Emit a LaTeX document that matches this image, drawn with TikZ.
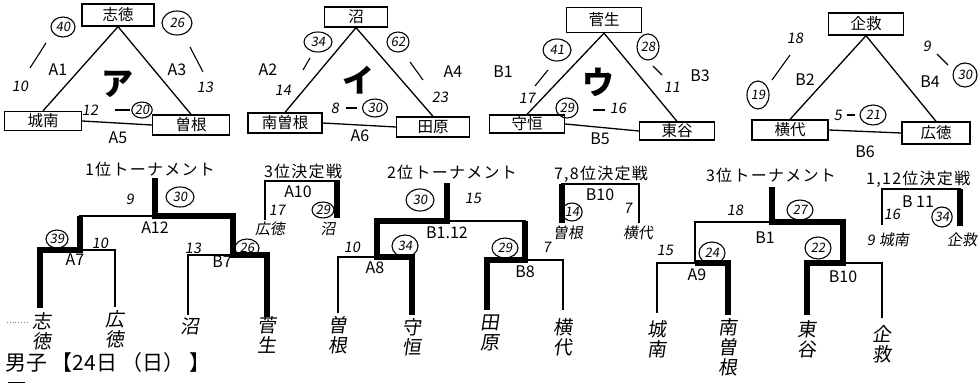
\documentclass[tikz,border=0pt]{standalone}
\usepackage{fontspec}
\usetikzlibrary{shapes.geometric}
\newfontfamily\jp{Noto Sans CJK JP}
\newfontfamily\jpt[LetterSpace=8]{Noto Sans CJK JP}
\newfontfamily\hand[FakeSlant=0.15]{Noto Sans CJK JP}
\tikzset{
  box/.style={draw, line width=1.3pt, inner sep=0pt, font=\jp\fontsize{15.5}{15.5}\selectfont},
  lbl/.style={inner sep=0pt, font=\jp\fontsize{16}{16}\selectfont},
  kana/.style={inner sep=0pt, font=\jp\bfseries\fontsize{32}{32}\selectfont},
  hw/.style={inner sep=0pt, font=\hand\fontsize{14.5}{14.5}\selectfont},
  hwl/.style={inner sep=0pt, font=\hand\fontsize{15}{15}\selectfont},
  circ/.style={draw, ellipse, line width=1.1pt, inner sep=0pt, font=\hand\fontsize{13}{13}\selectfont},
  edge/.style={line width=1.3pt},
  tick/.style={line width=1.1pt},
  thin/.style={line width=1.3pt},
  win/.style={line width=5.5pt, line join=miter},
  ttl/.style={inner sep=0pt, font=\jpt\fontsize{16}{16}\selectfont},
  leaf/.style={anchor=north, inner sep=0pt, align=center, font=\hand\fontsize{19}{20}\selectfont},
}
\begin{document}
\begin{tikzpicture}[x=1pt,y=-1pt]
\useasboundingbox (0,0) rectangle (980,385);
% ---------- Triangle ア ----------
\node[box, minimum width=72pt, minimum height=22pt] (sht) at (118,15) {志徳};
\node[box, minimum width=77pt, minimum height=19pt] (jnn) at (43,121) {城南};
\node[box, minimum width=77pt, minimum height=20pt] (sne) at (191,125) {曽根};
\draw[edge] (sht.south) -- (jnn.north);
\draw[edge] (sht.south) -- (sne.north);
\draw[edge] (jnn.east) -- (sne.west);
\node[lbl] (a1) at (58,70) {A1};
\node[lbl] (a3) at (177,70) {A3};
\node[lbl] (a5) at (118,138) {A5};
\node[kana] (ka) at (117,84) {ア};
\node[circ, minimum width=24pt, minimum height=20pt] (c40) at (63,27) {40};
\node[hw] (s10) at (20,86) {10};
\draw[tick] (30,68) -- (46,43);
\node[circ, minimum width=30pt, minimum height=24pt] (c26) at (177,23) {26};
\draw[tick] (190,47) -- (203,72);
\node[hw] (s13) at (205,87) {13};
\node[hw] (s12) at (90,110) {12};
\draw[tick] (115,110) -- (130,110);
\node[circ, minimum width=20pt, minimum height=16pt] (c20) at (142,110) {20};
% ---------- Triangle イ ----------
\node[box, minimum width=63pt, minimum height=20pt] (num) at (356,17) {沼};
\node[box, minimum width=74pt, minimum height=20pt] (mss) at (285,123) {南曽根};
\node[box, minimum width=73pt, minimum height=20pt] (tah) at (433,127) {田原};
\draw[edge] (num.south) -- (mss.north);
\draw[edge] (num.south) -- (tah.north);
\draw[edge] (mss.east) -- (tah.west);
\node[lbl] (a2) at (268,70) {A2};
\node[lbl] (a4) at (453,72) {A4};
\node[lbl] (a6) at (360,136) {A6};
\node[kana] (ki) at (358,80) {イ};
\node[circ, minimum width=28pt, minimum height=20pt] (c34) at (318,42) {34};
\draw[tick] (310,58) -- (303,70);
\node[hw] (s14) at (283,90) {14};
\node[circ, minimum width=22pt, minimum height=20pt] (c62) at (398,42) {62};
\draw[tick] (410,62) -- (423,80);
\node[hw] (s23) at (440,97) {23};
\node[hw] (s8) at (335,108) {8};
\draw[tick] (346,108) -- (357,108);
\node[circ, minimum width=25pt, minimum height=18pt] (c30a) at (375,108) {30};
% ---------- Triangle ウ ----------
\node[box, minimum width=75pt, minimum height=25pt] (sug) at (604,20) {菅生};
\node[box, minimum width=75pt, minimum height=18pt] (mrt) at (527,124) {守恒};
\node[box, minimum width=75pt, minimum height=18pt] (hgs) at (677,131) {東谷};
\draw[edge] (sug.south) -- (mrt.north);
\draw[edge] (sug.south) -- (hgs.north);
\draw[edge] (mrt.east) -- (hgs.west);
\node[lbl] (b1) at (503,72) {B1};
\node[lbl] (b3) at (700,76) {B3};
\node[lbl] (b5) at (600,139) {B5};
\node[kana] (ku) at (598,82) {ウ};
\node[circ, minimum width=28pt, minimum height=22pt] (c41) at (557,50) {41};
\draw[tick] (548,70) -- (535,86);
\node[hw] (s17) at (527,98) {17};
\node[circ, minimum width=22pt, minimum height=26pt] (c28) at (648,47) {28};
\draw[tick] (653,66) -- (662,75);
\node[hw] (s11) at (672,87) {11};
\node[circ, minimum width=22pt, minimum height=20pt] (c29) at (567,108) {29};
\draw[tick] (593,110) -- (605,110);
\node[hw] (s16) at (618,108) {16};
% ---------- Triangle (4) ----------
\node[box, minimum width=75pt, minimum height=22pt] (kik) at (866,24) {企救};
\node[box, minimum width=76pt, minimum height=20pt] (ysh) at (790,130) {横代};
\node[box, minimum width=68pt, minimum height=22pt] (htk) at (936,133) {広徳};
\draw[edge] (kik.south) -- (ysh.north);
\draw[edge] (kik.south) -- (htk.north);
\draw[edge] (ysh.east) -- (htk.west);
\node[lbl] (b2) at (805,80) {B2};
\node[lbl] (b4) at (930,82) {B4};
\node[lbl] (b6) at (865,152) {B6};
\node[hw] (s18) at (795,38) {18};
\draw[tick] (790,55) -- (772,80);
\node[circ, minimum width=22pt, minimum height=28pt] (c19) at (758,95) {19};
\node[hw] (s9a) at (927,46) {9};
\draw[tick] (937,54) -- (948,65);
\node[circ, minimum width=24pt, minimum height=24pt] (c30b) at (965,75) {30};
\node[hw] (s5) at (838,115) {5};
\draw[tick] (847,115) -- (855,115);
\node[circ, minimum width=26pt, minimum height=20pt] (c21) at (873,115) {21};
% ---------- Bracket titles ----------
\node[ttl] (t1) at (150,169) {1位トーナメント};
\node[ttl] (t2) at (303,171) {3位決定戦};
\node[ttl] (t3) at (452,172) {2位トーナメント};
\node[ttl] (t4) at (601,174) {7,8位決定戦};
\node[ttl] (t5) at (771,175) {3位トーナメント};
\node[ttl, anchor=west] (t6) at (866,179) {1,12位決定戦};
% ---------- 1位トーナメント ----------
\draw[thin] (40,307) -- (40,250) -- (115,250) -- (115,307);
\draw[thin] (80,250) -- (80,216) -- (233,216) -- (233,255);
\draw[thin] (188,315) -- (188,255) -- (267,255) -- (267,317);
\draw[win] (40,308) -- (40,250) -- (80,250) -- (80,216);
\draw[win] (267,317) -- (267,255) -- (233,255) -- (233,216) -- (155,216) -- (155,178);
\node[hw] (n9) at (130,199) {9};
\node[circ, minimum width=28pt, minimum height=20pt] (c30c) at (180,197) {30};
\node[lbl] (a12) at (155,228) {A12};
\node[circ, minimum width=22pt, minimum height=18pt] (c39) at (57,239) {39};
\node[hw] (n10a) at (100,243) {10};
\node[lbl] (a7) at (75,260) {A7};
\node[hw] (n13) at (193,248) {13};
\node[circ, minimum width=24pt, minimum height=18pt] (c26b) at (247,248) {26};
\node[lbl] (b7) at (222,262) {B7};
\node[leaf] (l1) at (42,312) {志\\徳};
\node[leaf] (l2) at (115,310) {広\\徳};
\node[leaf] (l3) at (190,318) {沼};
\node[leaf] (l4) at (267,316) {菅\\生};
% ---------- 3位決定戦 ----------
\draw[thin] (265,220) -- (265,181) -- (337,181) -- (337,218);
\draw[win] (337,218) -- (337,180);
\node[lbl] (a10) at (298,192) {A10};
\node[hw] (n17) at (277,210) {17};
\node[circ, minimum width=22pt, minimum height=16pt] (c29b) at (323,210) {29};
\node[hwl] (m1) at (270,229) {広徳};
\node[hwl] (m2) at (328,229) {沼};
% ---------- 2位トーナメント ----------
\draw[thin] (338,313) -- (338,257) -- (412,257) -- (412,315);
\draw[thin] (377,257) -- (377,221) -- (525,221) -- (525,260);
\draw[thin] (487,310) -- (487,260) -- (563,260) -- (563,310);
\draw[win] (412,315) -- (412,257) -- (377,257) -- (377,221) -- (447,221) -- (447,183);
\draw[win] (487,310) -- (487,260) -- (525,260) -- (525,221);
\node[circ, minimum width=28pt, minimum height=22pt] (c30d) at (420,200) {30};
\node[hw] (n15) at (473,198) {15};
\node[lbl] (b112) at (447,233) {B1.12};
\node[hw] (n10b) at (352,247) {10};
\node[circ, minimum width=26pt, minimum height=22pt] (c34b) at (405,246) {34};
\node[lbl] (a8) at (375,268) {A8};
\node[circ, minimum width=26pt, minimum height=20pt] (c29c) at (505,248) {29};
\node[hw] (n7a) at (547,247) {7};
\node[lbl] (b8) at (525,272) {B8};
\node[leaf] (l5) at (338,316) {曽\\根};
\node[leaf] (l6) at (412,318) {守\\恒};
\node[leaf] (l7) at (490,315) {田\\原};
\node[leaf] (l8) at (563,318) {横\\代};
% ---------- 7,8位決定戦 ----------
\draw[thin] (562,223) -- (562,184) -- (639,184) -- (639,223);
\draw[win] (562,223) -- (562,184);
\node[lbl] (b10a) at (600,195) {B10};
\node[circ, minimum width=20pt, minimum height=18pt] (c14) at (572,212) {14};
\node[hw] (n7b) at (628,208) {7};
\node[hwl] (m3) at (568,233) {曽根};
\node[hwl] (m4) at (638,233) {横代};
% ---------- 3位トーナメント ----------
\draw[thin] (657,313) -- (657,263) -- (728,263) -- (728,315);
\draw[thin] (695,263) -- (695,222) -- (843,222) -- (843,263);
\draw[thin] (807,315) -- (807,263) -- (882,263) -- (882,318);
\draw[win] (807,315) -- (807,263) -- (843,263) -- (843,222) -- (772,222) -- (772,187);
\draw[win] (728,315) -- (728,263) -- (695,263);
\draw[line width=2.5pt] (695,263) -- (695,222);
\node[hw] (n18) at (735,210) {18};
\node[circ, minimum width=26pt, minimum height=20pt] (c27) at (800,210) {27};
\node[lbl] (b1b) at (765,238) {B1};
\node[hw] (n15b) at (665,250) {15};
\node[circ, minimum width=26pt, minimum height=22pt] (c24) at (712,253) {24};
\node[lbl] (a9) at (697,275) {A9};
\node[circ, minimum width=26pt, minimum height=22pt] (c22) at (818,248) {22};
\node[lbl] (b10b) at (843,277) {B10};
\node[hw] (n9b) at (871,240) {9};
\node[leaf] (l9) at (657,320) {城\\南};
\node[leaf] (l10) at (728,318) {南\\曽\\根};
\node[leaf] (l11) at (807,320) {東\\谷};
\node[leaf] (l12) at (882,325) {企\\救};
% ---------- 11,12位決定戦 ----------
\draw[thin] (882,225) -- (882,189) -- (960,189) -- (960,225);
\draw[win] (960,226) -- (960,189);
\node[lbl] (b11) at (918,202) {B 11};
\node[hw] (n16) at (892,214) {16};
\node[circ, minimum width=20pt, minimum height=20pt] (c34c) at (942,217) {34};
\node[hwl] (m5) at (894,240) {城南};
\node[hwl] (m6) at (962,240) {企救};
% ---------- footer ----------
\node[anchor=west, inner sep=0pt, font=\jp\fontsize{21}{21}\selectfont] (ft) at (5,363) {男子 【24日 （日） 】};
\draw[gray, dotted, line width=0.8pt] (7,322) -- (28,322);
\draw[line width=1pt] (8,382) -- (25,382);
\end{tikzpicture}
\end{document}
